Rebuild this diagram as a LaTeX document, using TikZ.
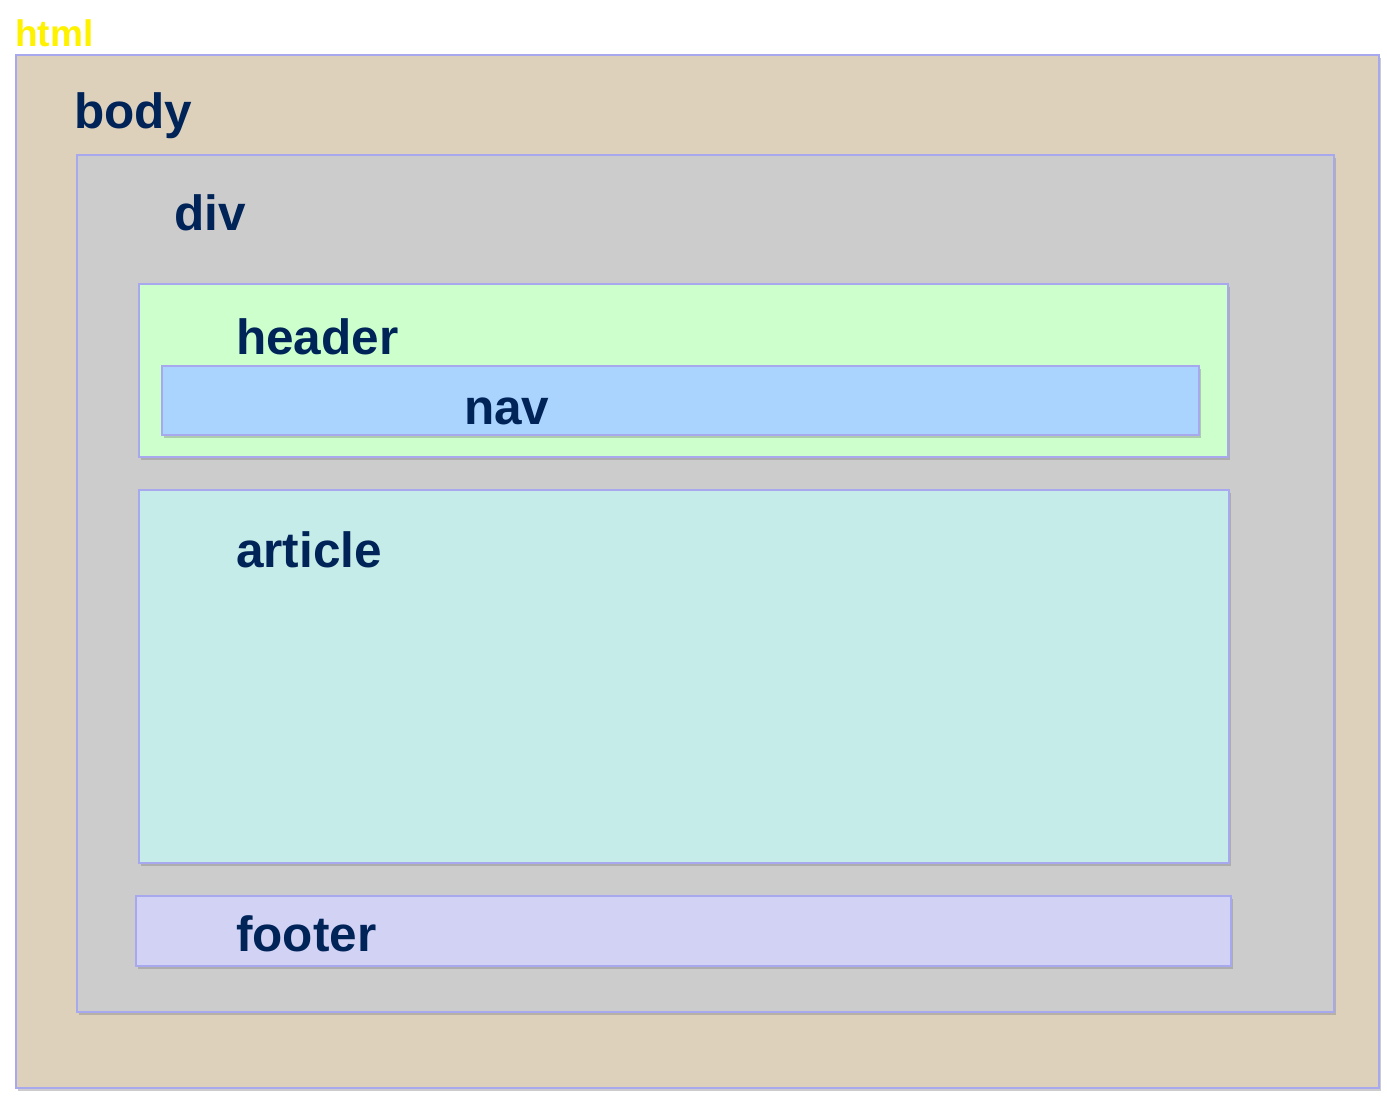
\documentclass[tikz,border=0pt]{standalone}
\usepackage{fontspec}
\setmainfont{Liberation Sans}
\usetikzlibrary{fit,shadows}
\definecolor{tagtext}{RGB}{0,35,88}
\definecolor{edge}{RGB}{168,168,238}
\definecolor{bodyfill}{RGB}{221,209,188}
\definecolor{divfill}{RGB}{204,204,204}
\definecolor{headerfill}{RGB}{204,255,204}
\definecolor{navfill}{RGB}{170,212,254}
\definecolor{articlefill}{RGB}{197,236,232}
\definecolor{footerfill}{RGB}{210,210,245}
\tikzset{
  box/.style={draw=edge, line width=1.5pt, inner sep=0pt,
    drop shadow={shadow xshift=2pt, shadow yshift=-3pt, opacity=0.4}},
  tag/.style={anchor=base west, inner sep=0pt, text=tagtext,
    font=\bfseries\fontsize{49.5}{60}\selectfont}
}
\begin{document}
\begin{tikzpicture}[x=1pt, y=-1pt]
\useasboundingbox[fill=white] (0,0) rectangle (1387,1100);

\node[box, fill=bodyfill, fit={(16,55) (1379,1088)}] (bodybox) {};
\node[tag, text=yellow, font=\bfseries\fontsize{37}{45}\selectfont] (htmllabel) at (15,46) {html};
\node[tag] (bodylabel) at (74,128) {body};

\node[box, fill=divfill, fit={(77,155) (1334,1012)}] (divbox) {};
\node[tag] (divlabel) at (174,230) {div};

\node[box, fill=headerfill, fit={(139,284) (1228,457)}] (headerbox) {};
\node[tag] (headerlabel) at (236,354) {header};
\node[box, fill=navfill, fit={(162,366) (1199,435)}] (navbox) {};
\node[tag] (navlabel) at (464,424) {nav};

\node[box, fill=articlefill, fit={(139,490) (1229,863)}] (articlebox) {};
\node[tag] (articlelabel) at (236,567) {article};

\node[box, fill=footerfill, fit={(136,896) (1231,966)}] (footerbox) {};
\node[tag] (footerlabel) at (236,951) {footer};

\end{tikzpicture}
\end{document}
